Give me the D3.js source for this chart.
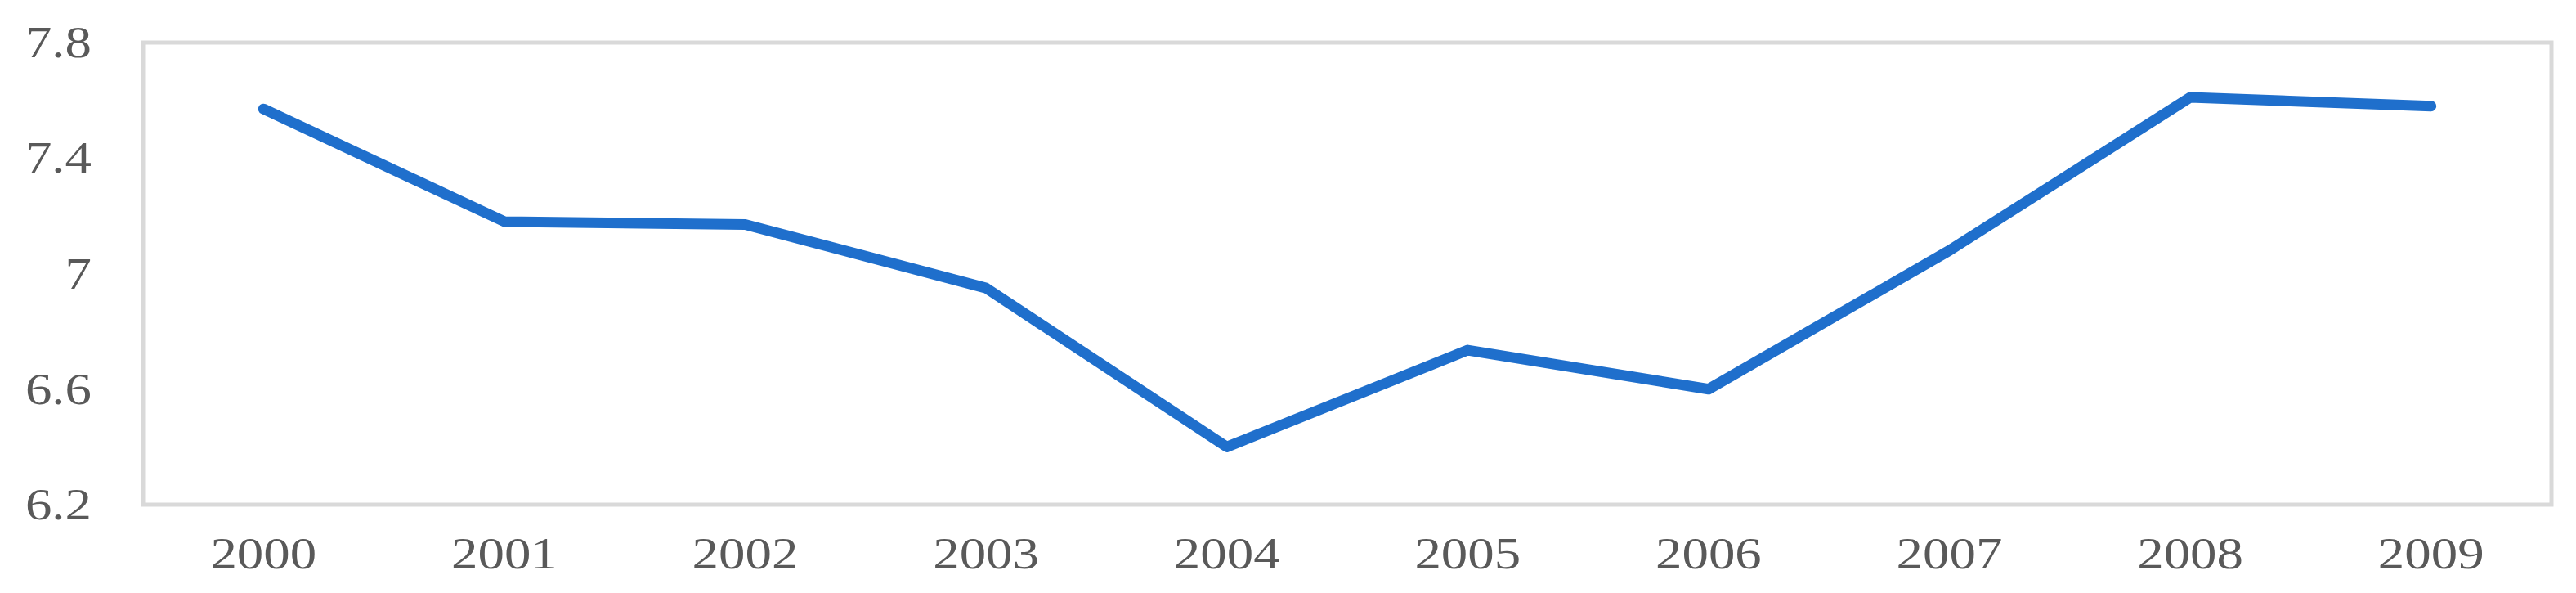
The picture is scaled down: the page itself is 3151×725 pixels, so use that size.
<!DOCTYPE html>
<html>
<head>
<meta charset="utf-8">
<script src="https://cdn.jsdelivr.net/npm/d3@7"></script>
<style>
  body { margin: 0; background: #fff; }
  svg { display: block; }
</style>
</head>
<body>
<script>
// data
var years = ['2000','2001','2002','2003','2004','2005','2006','2007','2008','2009'];
var values = [7.57, 7.18, 7.17, 6.95, 6.40, 6.735, 6.60, 7.08, 7.61, 7.58];
var y_ticks = [6.2, 6.6, 7, 7.4, 7.8];
var y_tick_labels = ['6.2', '6.6', '7', '7.4', '7.8'];

var width = 3151, height = 725;
var box_left = 175, box_right = 3121, box_top = 52, box_bottom = 617;
var text_stretch = 1.18;

var svg = d3.select('body').append('svg')
	.attr('width', width)
	.attr('height', height)

svg.append('rect')
	.attr('width', width).attr('height', height)
	.attr('fill', '#ffffff')

var x = d3.scalePoint().domain(years).range([box_left, box_right]).padding(0.5);
var y = d3.scaleLinear().domain([6.2, 7.8]).range([box_bottom, box_top]);

// plot frame
svg.append('rect')
	.attr('x', box_left).attr('y', box_top)
	.attr('width', box_right - box_left)
	.attr('height', box_bottom - box_top)
	.attr('fill', 'none')
	.attr('stroke', '#d9d9d9')
	.attr('stroke-width', 5)

// y axis labels
var yaxis = svg.append('g').attr('id', 'yaxis')
yaxis.selectAll('text').data(y_ticks)
	.enter().append('text')
		.text(function(d, i) { return y_tick_labels[i]; })
		.attr('transform', function(d) { return 'translate(112,' + (y(d) + 18) + ') scale(' + text_stretch + ',1)'; })
		.attr('text-anchor', 'end')
		.attr('font-family', '"Liberation Serif", "Times New Roman", serif')
		.attr('font-size', 55)
		.attr('fill', '#595959')

// x axis labels
var xaxis = svg.append('g').attr('id', 'xaxis')
xaxis.selectAll('text').data(years)
	.enter().append('text')
		.text(function(d) { return d; })
		.attr('transform', function(d) { return 'translate(' + x(d) + ',695) scale(' + text_stretch + ',1)'; })
		.attr('text-anchor', 'middle')
		.attr('font-family', '"Liberation Serif", "Times New Roman", serif')
		.attr('font-size', 55)
		.attr('fill', '#595959')

// the line
var line = d3.line()
	.x(function(d, i) { return x(years[i]); })
	.y(function(d) { return y(d); });

svg.append('path')
	.datum(values)
	.attr('d', line)
	.attr('fill', 'none')
	.attr('stroke', '#1f6fcc')
	.attr('stroke-width', 13)
	.attr('stroke-linejoin', 'round')
	.attr('stroke-linecap', 'round')
</script>
</body>
</html>
